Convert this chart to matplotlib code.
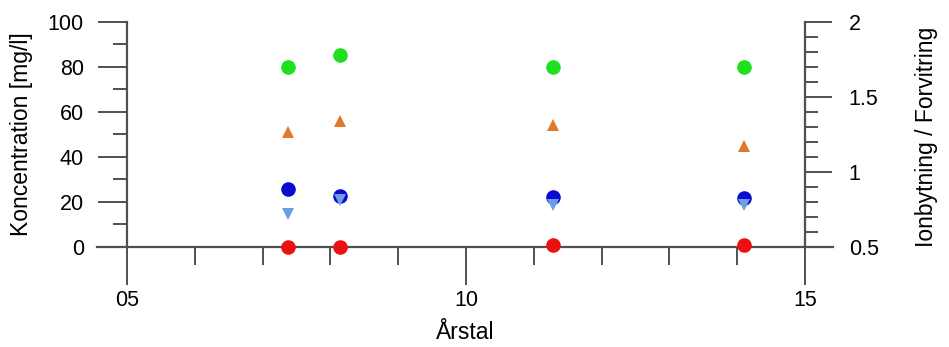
import matplotlib
matplotlib.use("Agg")
import matplotlib.pyplot as plt
from matplotlib.ticker import MultipleLocator, FixedLocator

plt.rcParams["font.family"] = ["Liberation Sans", "DejaVu Sans"]

# Data (year offset, concentration mg/l)
years = [7.37, 8.14, 11.28, 14.1]
green_vals = [80, 85.5, 80, 80]
orange_vals = [51, 56, 54, 45]
blue_vals = [25.8, 22.8, 22.1, 21.9]
lightblue_vals = [14.5, 21, 18.5, 18.8]
red_vals = [0.2, 0.2, 0.8, 0.8]

x_ticks = [5, 10, 15]
x_ticklabels = ["05", "10", "15"]

line_col = "#505050"

fig = plt.figure(figsize=(9.49, 3.47), dpi=100)
ax = fig.add_axes([0.1022, 0.2882, 0.7756, 0.6484])

xmin, xmax = 4.557, 15.413
ax.set_xlim(xmin, xmax)
ax.set_ylim(0, 100)

# Spines
for s in ["top", "right"]:
    ax.spines[s].set_visible(False)
ax.spines["left"].set_position(("data", 5))
ax.spines["left"].set_bounds(0, 100)
ax.spines["bottom"].set_position(("data", 0))
for s in ["left", "bottom"]:
    ax.spines[s].set_color(line_col)
    ax.spines[s].set_linewidth(1.6)

ax.yaxis.set_major_locator(MultipleLocator(20))
ax.yaxis.set_minor_locator(MultipleLocator(10))
ax.xaxis.set_major_locator(FixedLocator(x_ticks))
ax.set_xticklabels(x_ticklabels)
ax.xaxis.set_minor_locator(MultipleLocator(1))

ax.tick_params(axis="y", which="major", direction="out", length=21, width=1.4,
               color=line_col, labelsize=15.5, pad=10)
ax.tick_params(axis="y", which="minor", direction="out", length=10, width=1.4, color=line_col)
ax.tick_params(axis="x", which="major", direction="out", length=27, width=1.4,
               color=line_col, labelsize=15.5, pad=4)
ax.tick_params(axis="x", which="minor", direction="out", length=13, width=1.4, color=line_col)

ax.set_ylabel("Koncentration [mg/l]", fontsize=16.5)
ax.set_xlabel("Årstal", fontsize=16.5, labelpad=7)
ax.yaxis.set_label_coords(-0.087, 0.5)

# Right axis
ax2 = ax.twinx()
ax2.set_ylim(0.5, 2)
for s in ["top", "left", "bottom"]:
    ax2.spines[s].set_visible(False)
ax2.spines["right"].set_position(("axes", (15 - xmin) / (xmax - xmin)))
ax2.spines["right"].set_bounds(0.5, 2)
ax2.spines["right"].set_color(line_col)
ax2.spines["right"].set_linewidth(1.6)
ax2.yaxis.set_major_locator(MultipleLocator(0.5))
ax2.yaxis.set_minor_locator(MultipleLocator(0.1))
ax2.yaxis.set_major_formatter(plt.FuncFormatter(lambda v, p: f"{v:g}"))
ax2.tick_params(axis="y", which="major", direction="out", length=19.5, width=1.4,
                color=line_col, labelsize=15.5, pad=12)
ax2.tick_params(axis="y", which="minor", direction="out", length=9.5, width=1.4, color=line_col)
ax2.set_ylabel("Ionbytning / Forvitring", fontsize=16.5)
ax2.yaxis.set_label_coords(1.111, 0.49)

# Markers
ax.plot(years, green_vals, "o", color="#1fe01f", markersize=10.5, markeredgewidth=0, clip_on=False, zorder=5)
ax.plot(years, orange_vals, "^", color="#e07a2a", markersize=8.5, markeredgewidth=0, clip_on=False, zorder=5)
ax.plot(years, blue_vals, "o", color="#0b0bd0", markersize=10.5, markeredgewidth=0, clip_on=False, zorder=5)
ax.plot(years, lightblue_vals, "v", color="#6a9ee8", markersize=9, markeredgewidth=0, clip_on=False, zorder=6)
ax.plot(years, red_vals, "o", color="#ec1010", markersize=10.5, markeredgewidth=0, clip_on=False, zorder=7)

fig.savefig("out.png", dpi=100)
